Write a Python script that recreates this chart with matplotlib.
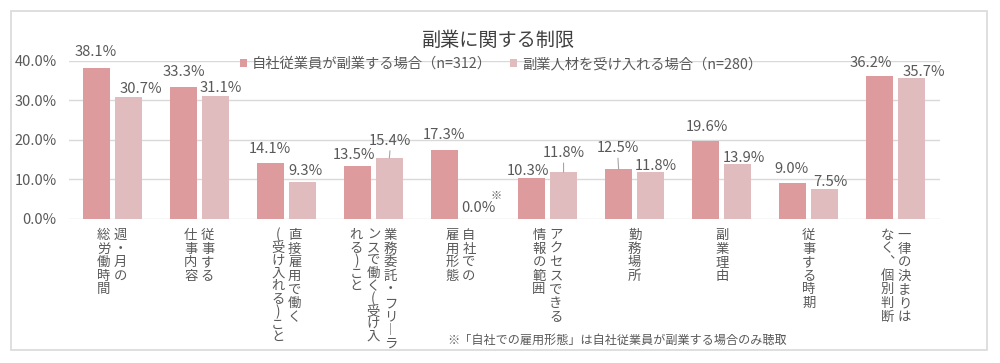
import matplotlib
matplotlib.use("Agg")
import matplotlib.pyplot as plt
import numpy as np
from matplotlib.patches import Rectangle

plt.rcParams['font.family'] = ['Noto Sans CJK JP', 'DejaVu Sans']

# ---------------- data ----------------
title = "副業に関する制限"
series_names = ["自社従業員が副業する場合（n=312）", "副業人材を受け入れる場合（n=280）"]
# category labels written vertically: list of columns, right column first
categories = [
    ["週・月の", "総労働時間"],
    ["従事する", "仕事内容"],
    ["直接雇用で働く", "(受け入れる)こと"],
    ["業務委託・フリ︱ラ", "ンスで働く(受け入", "れる)こと"],
    ["自社での", "雇用形態"],
    ["アクセスできる", "情報の範囲"],
    ["勤務場所"],
    ["副業理由"],
    ["従事する時期"],
    ["一律の決まりは", "なく︑個別判断"],
]
own_staff = [38.1, 33.3, 14.1, 13.5, 17.3, 10.3, 12.5, 19.6, 9.0, 36.2]
accept_talent = [30.7, 31.1, 9.3, 15.4, 0.0, 11.8, 11.8, 13.9, 7.5, 35.7]
yticks = [0, 10, 20, 30, 40]
footnote = "※「自社での雇用形態」は自社従業員が副業する場合のみ聴取"

# ---------------- style ----------------
c_red = "#DE9B9D"
c_pink = "#E0BCBF"
txt = "#595959"
grid_c = "#D9D9D9"

# label offsets in pixels (dx, dy) relative to bar top
off_red = [(0, 16), (1, 15), (0, 14), (-3, 11), (0, 15), (-4, 7), (-1, 21), (1, 14), (-1, 14), (-9, 13)]
off_pink = [(13, 8), (6, 8), (3, 11), (1, 17), (2, 11), (0, 19), (5, 6), (6, 6), (6, 7), (12, 6)]
leader_red = [False] * 6 + [True] + [False] * 3
leader_pink = [False, False, False, True, False, True, False, False, False, False]

fig = plt.figure(figsize=(10, 3.63), dpi=100)
W, H = 1000, 363
ax = fig.add_axes([68.5 / W, 1 - 219 / H, 871 / W, (219 - 60.5) / H])

x = np.arange(len(own_staff))
bw = 0.31
off = 16 / 87.1
ax.bar(x - off, own_staff, bw, color=c_red, label=series_names[0], zorder=3)
ax.bar(x + off, accept_talent, bw, color=c_pink, label=series_names[1], zorder=3)

ax.set_xlim(-0.5, len(x) - 0.5)
ax.set_ylim(0, 40)
ax.set_yticks(yticks)
ax.set_yticklabels([f"{v:.1f}%" for v in yticks], fontsize=10.5, color=txt)
ax.tick_params(axis='y', length=0, pad=8.5)
ax.tick_params(axis='x', length=0, labelbottom=False)
for s in ax.spines.values():
    s.set_visible(False)
ax.yaxis.grid(True, color=grid_c, lw=1, zorder=0)
ax.set_axisbelow(True)

# data labels
for vals, offs, leaders, sgn in [(own_staff, off_red, leader_red, -1), (accept_talent, off_pink, leader_pink, 1)]:
    for i, v in enumerate(vals):
        dx, dy = offs[i]
        kw = {}
        if leaders[i]:
            kw['arrowprops'] = dict(arrowstyle='-', color='#A6A6A6', lw=0.8,
                                    relpos=(0.5, 0.15), shrinkA=0, shrinkB=0)
        ax.annotate(f"{v:.1f}%", xy=(i + sgn * off, v), xytext=(dx, dy),
                    textcoords='offset pixels', ha='center', va='center',
                    fontsize=10.6, color=txt, annotation_clip=False, **kw)

# "※" mark near the 0.0% label
ax.annotate("※", xy=(4 + off, 0), xytext=(20, 23), textcoords='offset pixels',
            ha='center', va='center', fontsize=8, color=txt, annotation_clip=False)

# vertical category labels: one text per column, line pitch tuned
cat_fs = 9.6
pitch_full = 13.5
pitch_paren = 12.3
renderer = fig.canvas.get_renderer()
t1 = fig.text(0, 0, "業", fontsize=cat_fs, linespacing=1.0)
t2 = fig.text(0, 0, "業\n業", fontsize=cat_fs, linespacing=1.0)
gap = t2.get_window_extent(renderer).height - t1.get_window_extent(renderer).height
t1.remove(); t2.remove()

col_pitch = 17
for i, cols in enumerate(categories):
    n = len(cols)
    for k, col in enumerate(cols):
        cx = (n - 1) / 2 * col_pitch - k * col_pitch
        p = pitch_paren if ("(" in col or ")" in col) else pitch_full
        ax.annotate("\n".join(col), xy=(i, 0), xytext=(cx, -9),
                    textcoords='offset pixels', ha='center', va='top',
                    multialignment='center', linespacing=p / gap,
                    fontsize=cat_fs, color=txt, annotation_clip=False)

# title, legend, footnote
fig.text(498 / W, 1 - 40 / H, title, ha='center', va='center', fontsize=13.8, color="#404040")
leg = fig.legend(loc='center', bbox_to_anchor=(501 / W, 1 - 64 / H), ncol=2, frameon=False,
                 fontsize=10.3, handlelength=0.5, handleheight=0.5, handletextpad=0.3,
                 columnspacing=1.3, labelcolor=txt)
fig.text(447 / W, 1 - 340 / H, footnote, ha='left', va='center', fontsize=8.7, color=txt)

# outer frame
fig.patches.append(Rectangle((11 / W, 1 - 350 / H), 976 / W, 339 / H, transform=fig.transFigure,
                             fill=False, edgecolor="#D9D9D9", lw=1.2))

fig.savefig("out.png", dpi=100, facecolor="white")
